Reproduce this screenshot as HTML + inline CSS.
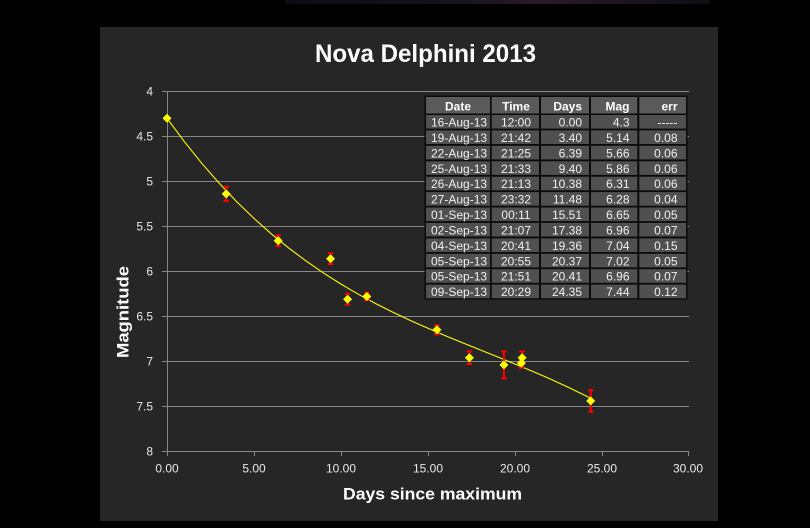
<!DOCTYPE html>
<html>
<head>
<meta charset="utf-8">
<style>
html,body{margin:0;padding:0;background:#000;}
svg{display:block;}
text{font-family:"Liberation Sans",sans-serif;}
</style>
</head>
<body>
<svg width="810" height="528" viewBox="0 0 810 528" xmlns="http://www.w3.org/2000/svg">
<defs>
<linearGradient id="strip" x1="0" x2="1" y1="0" y2="0">
<stop offset="0" stop-color="#0c0c12"/>
<stop offset="0.4" stop-color="#15141c"/>
<stop offset="0.6" stop-color="#2a1a28"/>
<stop offset="0.8" stop-color="#1c1520"/>
<stop offset="1" stop-color="#0e0e12"/>
</linearGradient>
</defs>
<rect x="0" y="0" width="810" height="528" fill="#000"/>
<rect x="285" y="0" width="425" height="4" fill="url(#strip)"/>
<rect x="100" y="27" width="618" height="494" fill="#262626"/>

<!-- title -->
<text x="425.5" y="62" text-anchor="middle" font-size="25" font-weight="bold" fill="#ffffff" textLength="221" lengthAdjust="spacingAndGlyphs">Nova Delphini 2013</text>

<!-- gridlines -->
<g stroke="#868686" stroke-width="1">
<line x1="162" y1="91.5" x2="689" y2="91.5"/>
<line x1="162" y1="136.5" x2="689" y2="136.5"/>
<line x1="162" y1="181.5" x2="689" y2="181.5"/>
<line x1="162" y1="226.5" x2="689" y2="226.5"/>
<line x1="162" y1="271.5" x2="689" y2="271.5"/>
<line x1="162" y1="316.5" x2="689" y2="316.5"/>
<line x1="162" y1="361.5" x2="689" y2="361.5"/>
<line x1="162" y1="406.5" x2="689" y2="406.5"/>
<line x1="162" y1="451.5" x2="689" y2="451.5"/>
<line x1="167.5" y1="91.5" x2="167.5" y2="456"/>
<line x1="254.5" y1="451.5" x2="254.5" y2="456"/>
<line x1="341.5" y1="451.5" x2="341.5" y2="456"/>
<line x1="428.5" y1="451.5" x2="428.5" y2="456"/>
<line x1="515.5" y1="451.5" x2="515.5" y2="456"/>
<line x1="602.5" y1="451.5" x2="602.5" y2="456"/>
<line x1="688.5" y1="451.5" x2="688.5" y2="456"/>
</g>

<!-- y labels -->
<g font-size="12" fill="#e8e8e8" text-anchor="end">
<text x="153" y="95.5">4</text>
<text x="153" y="140.5">4.5</text>
<text x="153" y="185.5">5</text>
<text x="153" y="230.5">5.5</text>
<text x="153" y="275.5">6</text>
<text x="153" y="320.5">6.5</text>
<text x="153" y="365.5">7</text>
<text x="153" y="410.5">7.5</text>
<text x="153" y="455.5">8</text>
</g>
<!-- x labels -->
<g font-size="12" fill="#e8e8e8" text-anchor="middle">
<text x="167" y="472.5">0.00</text>
<text x="254" y="472.5">5.00</text>
<text x="341" y="472.5">10.00</text>
<text x="428" y="472.5">15.00</text>
<text x="515" y="472.5">20.00</text>
<text x="602" y="472.5">25.00</text>
<text x="688" y="472.5">30.00</text>
</g>

<!-- axis titles -->
<text transform="translate(128.5,312) rotate(-90)" text-anchor="middle" font-size="17" font-weight="bold" fill="#ffffff" textLength="92" lengthAdjust="spacingAndGlyphs">Magnitude</text>
<text x="432.5" y="499.5" text-anchor="middle" font-size="17" font-weight="bold" fill="#ffffff" textLength="179" lengthAdjust="spacingAndGlyphs">Days since maximum</text>

<!-- trend line -->
<polyline fill="none" stroke="#ffff00" stroke-width="1.1" points="167,118.3 184.4,141.7 201.8,163.3 219.2,183.2 236.6,201.6 254,218.4 271.4,233.9 288.8,248.1 306.2,261.1 323.6,273.1 341,284.1 358.4,294.3 375.8,303.6 393.2,312.4 410.6,320.6 428,328.3 445.4,335.7 462.8,342.9 480.2,349.9 497.6,356.9 515,364 532.4,371.3 549.8,378.8 567.2,386.8 584.6,395.2 590.7,398.3"/>

<!-- error bars -->
<g stroke="#ff0000" stroke-width="2" fill="none">
<path d="M226.2,186.7V201.1M223.5,186.7H228.9M223.5,201.1H228.9"/>
<path d="M278.2,235.3V246.1M275.5,235.3H280.9M275.5,246.1H280.9"/>
<path d="M330.6,253.3V264.1M327.9,253.3H333.3M327.9,264.1H333.3"/>
<path d="M347.6,293.8V304.6M344.9,293.8H350.3M344.9,304.6H350.3"/>
<path d="M366.8,292.9V300.1M364.1,292.9H369.5M364.1,300.1H369.5"/>
<path d="M436.9,325.3V334.3M434.2,325.3H439.6M434.2,334.3H439.6"/>
<path d="M469.4,351.4V364M466.7,351.4H472.1M466.7,364H472.1"/>
<path d="M503.9,351.4V378.4M501.2,351.4H506.6M501.2,378.4H506.6"/>
<path d="M521.4,358.6V367.6M518.7,358.6H524.1M518.7,367.6H524.1"/>
<path d="M522.1,351.4V364M519.4,351.4H524.8M519.4,364H524.8"/>
<path d="M590.7,390.1V411.7M588,390.1H593.4M588,411.7H593.4"/>
</g>

<!-- markers -->
<g fill="#ffff00">
<path d="M167,113.8L171.5,118.3L167,122.8L162.5,118.3Z"/>
<path d="M226.2,189.4L230.7,193.9L226.2,198.4L221.7,193.9Z"/>
<path d="M278.2,236.2L282.7,240.7L278.2,245.2L273.7,240.7Z"/>
<path d="M330.6,254.2L335.1,258.7L330.6,263.2L326.1,258.7Z"/>
<path d="M347.6,294.7L352.1,299.2L347.6,303.7L343.1,299.2Z"/>
<path d="M366.8,292L371.3,296.5L366.8,301L362.3,296.5Z"/>
<path d="M436.9,325.3L441.4,329.8L436.9,334.3L432.4,329.8Z"/>
<path d="M469.4,353.2L473.9,357.7L469.4,362.2L464.9,357.7Z"/>
<path d="M503.9,360.4L508.4,364.9L503.9,369.4L499.4,364.9Z"/>
<path d="M521.4,358.6L525.9,363.1L521.4,367.6L516.9,363.1Z"/>
<path d="M522.1,353.2L526.6,357.7L522.1,362.2L517.6,357.7Z"/>
<path d="M590.7,396.4L595.2,400.9L590.7,405.4L586.2,400.9Z"/>
</g>

<!-- table -->
<rect x="424.5" y="95.5" width="263" height="204" fill="#0a0a0a"/>
<g fill="#5a5a5a">
<rect x="426" y="97" width="64" height="16.5"/>
<rect x="491.7" y="97" width="47.3" height="16.5"/>
<rect x="541" y="97" width="48" height="16.5"/>
<rect x="591" y="97" width="46.3" height="16.5"/>
<rect x="639.3" y="97" width="46.7" height="16.5"/>
</g>
<g fill="#505050" id="rows">
<rect x="426" y="115" width="64" height="13.6"/><rect x="491.7" y="115" width="47.3" height="13.6"/><rect x="541" y="115" width="48" height="13.6"/><rect x="591" y="115" width="46.3" height="13.6"/><rect x="639.3" y="115" width="46.7" height="13.6"/>
<rect x="426" y="130.4" width="64" height="13.6"/><rect x="491.7" y="130.4" width="47.3" height="13.6"/><rect x="541" y="130.4" width="48" height="13.6"/><rect x="591" y="130.4" width="46.3" height="13.6"/><rect x="639.3" y="130.4" width="46.7" height="13.6"/>
<rect x="426" y="145.8" width="64" height="13.6"/><rect x="491.7" y="145.8" width="47.3" height="13.6"/><rect x="541" y="145.8" width="48" height="13.6"/><rect x="591" y="145.8" width="46.3" height="13.6"/><rect x="639.3" y="145.8" width="46.7" height="13.6"/>
<rect x="426" y="161.3" width="64" height="13.6"/><rect x="491.7" y="161.3" width="47.3" height="13.6"/><rect x="541" y="161.3" width="48" height="13.6"/><rect x="591" y="161.3" width="46.3" height="13.6"/><rect x="639.3" y="161.3" width="46.7" height="13.6"/>
<rect x="426" y="176.7" width="64" height="13.6"/><rect x="491.7" y="176.7" width="47.3" height="13.6"/><rect x="541" y="176.7" width="48" height="13.6"/><rect x="591" y="176.7" width="46.3" height="13.6"/><rect x="639.3" y="176.7" width="46.7" height="13.6"/>
<rect x="426" y="192.1" width="64" height="13.6"/><rect x="491.7" y="192.1" width="47.3" height="13.6"/><rect x="541" y="192.1" width="48" height="13.6"/><rect x="591" y="192.1" width="46.3" height="13.6"/><rect x="639.3" y="192.1" width="46.7" height="13.6"/>
<rect x="426" y="207.5" width="64" height="13.6"/><rect x="491.7" y="207.5" width="47.3" height="13.6"/><rect x="541" y="207.5" width="48" height="13.6"/><rect x="591" y="207.5" width="46.3" height="13.6"/><rect x="639.3" y="207.5" width="46.7" height="13.6"/>
<rect x="426" y="222.9" width="64" height="13.6"/><rect x="491.7" y="222.9" width="47.3" height="13.6"/><rect x="541" y="222.9" width="48" height="13.6"/><rect x="591" y="222.9" width="46.3" height="13.6"/><rect x="639.3" y="222.9" width="46.7" height="13.6"/>
<rect x="426" y="238.4" width="64" height="13.6"/><rect x="491.7" y="238.4" width="47.3" height="13.6"/><rect x="541" y="238.4" width="48" height="13.6"/><rect x="591" y="238.4" width="46.3" height="13.6"/><rect x="639.3" y="238.4" width="46.7" height="13.6"/>
<rect x="426" y="253.8" width="64" height="13.6"/><rect x="491.7" y="253.8" width="47.3" height="13.6"/><rect x="541" y="253.8" width="48" height="13.6"/><rect x="591" y="253.8" width="46.3" height="13.6"/><rect x="639.3" y="253.8" width="46.7" height="13.6"/>
<rect x="426" y="269.2" width="64" height="13.6"/><rect x="491.7" y="269.2" width="47.3" height="13.6"/><rect x="541" y="269.2" width="48" height="13.6"/><rect x="591" y="269.2" width="46.3" height="13.6"/><rect x="639.3" y="269.2" width="46.7" height="13.6"/>
<rect x="426" y="284.6" width="64" height="13.6"/><rect x="491.7" y="284.6" width="47.3" height="13.6"/><rect x="541" y="284.6" width="48" height="13.6"/><rect x="591" y="284.6" width="46.3" height="13.6"/><rect x="639.3" y="284.6" width="46.7" height="13.6"/>
</g>
<g font-size="12" font-weight="bold" fill="#ffffff">
<text x="458" y="110.5" text-anchor="middle">Date</text>
<text x="516" y="110.5" text-anchor="middle">Time</text>
<text x="582" y="110.5" text-anchor="end">Days</text>
<text x="629.5" y="110.5" text-anchor="end">Mag</text>
<text x="677.5" y="110.5" text-anchor="end">err</text>
</g>
<g font-size="12" fill="#f0f0f0">
<g text-anchor="start">
<text x="431" y="126.5">16-Aug-13</text>
<text x="431" y="141.9">19-Aug-13</text>
<text x="431" y="157.3">22-Aug-13</text>
<text x="431" y="172.8">25-Aug-13</text>
<text x="431" y="188.2">26-Aug-13</text>
<text x="431" y="203.6">27-Aug-13</text>
<text x="431" y="219">01-Sep-13</text>
<text x="431" y="234.4">02-Sep-13</text>
<text x="431" y="249.9">04-Sep-13</text>
<text x="431" y="265.3">05-Sep-13</text>
<text x="431" y="280.7">05-Sep-13</text>
<text x="431" y="296.1">09-Sep-13</text>
</g>
<g text-anchor="middle">
<text x="516" y="126.5">12:00</text>
<text x="516" y="141.9">21:42</text>
<text x="516" y="157.3">21:25</text>
<text x="516" y="172.8">21:33</text>
<text x="516" y="188.2">21:13</text>
<text x="516" y="203.6">23:32</text>
<text x="516" y="219">00:11</text>
<text x="516" y="234.4">21:07</text>
<text x="516" y="249.9">20:41</text>
<text x="516" y="265.3">20:55</text>
<text x="516" y="280.7">21:51</text>
<text x="516" y="296.1">20:29</text>
</g>
<g text-anchor="end">
<text x="582" y="126.5">0.00</text>
<text x="582" y="141.9">3.40</text>
<text x="582" y="157.3">6.39</text>
<text x="582" y="172.8">9.40</text>
<text x="582" y="188.2">10.38</text>
<text x="582" y="203.6">11.48</text>
<text x="582" y="219">15.51</text>
<text x="582" y="234.4">17.38</text>
<text x="582" y="249.9">19.36</text>
<text x="582" y="265.3">20.37</text>
<text x="582" y="280.7">20.41</text>
<text x="582" y="296.1">24.35</text>
<text x="629.5" y="126.5">4.3</text>
<text x="629.5" y="141.9">5.14</text>
<text x="629.5" y="157.3">5.66</text>
<text x="629.5" y="172.8">5.86</text>
<text x="629.5" y="188.2">6.31</text>
<text x="629.5" y="203.6">6.28</text>
<text x="629.5" y="219">6.65</text>
<text x="629.5" y="234.4">6.96</text>
<text x="629.5" y="249.9">7.04</text>
<text x="629.5" y="265.3">7.02</text>
<text x="629.5" y="280.7">6.96</text>
<text x="629.5" y="296.1">7.44</text>
<text x="677.5" y="126.5">-----</text>
<text x="677.5" y="141.9">0.08</text>
<text x="677.5" y="157.3">0.06</text>
<text x="677.5" y="172.8">0.06</text>
<text x="677.5" y="188.2">0.06</text>
<text x="677.5" y="203.6">0.04</text>
<text x="677.5" y="219">0.05</text>
<text x="677.5" y="234.4">0.07</text>
<text x="677.5" y="249.9">0.15</text>
<text x="677.5" y="265.3">0.05</text>
<text x="677.5" y="280.7">0.07</text>
<text x="677.5" y="296.1">0.12</text>
</g>
</g>
</svg>
</body>
</html>
